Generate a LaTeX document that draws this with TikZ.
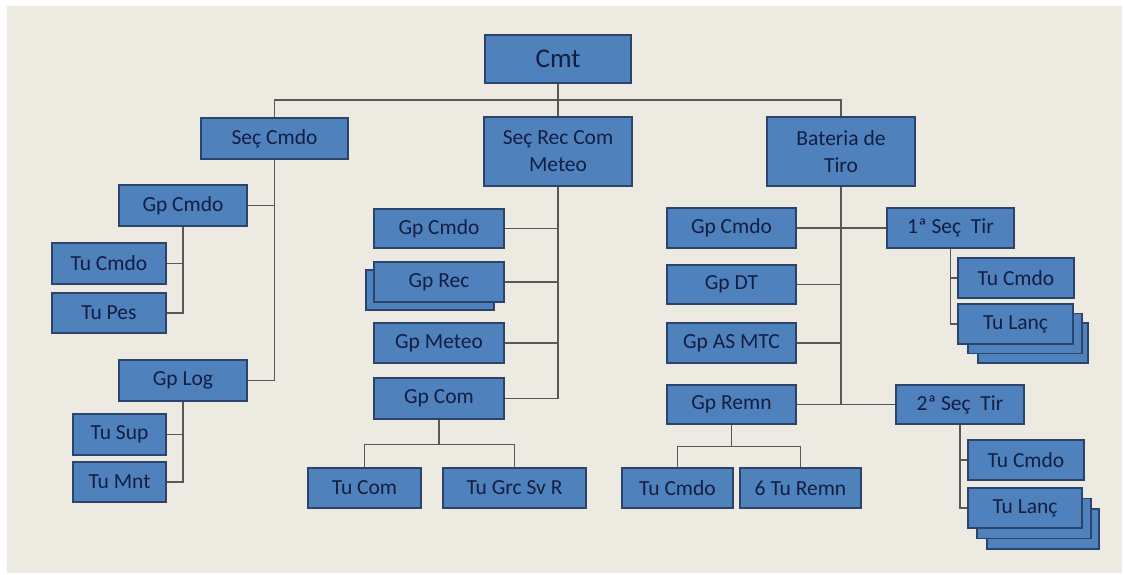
\documentclass[tikz,border=0pt]{standalone}
\usepackage{fontspec}
\setmainfont{Carlito}
\definecolor{bg}{RGB}{237,234,226}
\definecolor{boxfill}{RGB}{79,129,189}
\definecolor{boxline}{RGB}{44,68,108}
\definecolor{txt}{RGB}{18,30,66}
\definecolor{conn}{RGB}{88,88,88}
\begin{document}
\begin{tikzpicture}[x=1pt,y=-1pt,
  box/.style={draw=boxline,fill=boxfill,line width=1.6pt,inner sep=0pt,
    text=txt,font=\fontsize{21.5}{27}\selectfont,align=center},
  conn/.style={draw=conn,line width=1.5pt}]
\useasboundingbox (0,0) rectangle (1124,574);
\fill[white] (0,0) rectangle (1124,574);
\fill[bg] (7,6) rectangle (1122,573);
% top level
\node[box,minimum width=146pt,minimum height=48pt,font=\fontsize{27}{30}\selectfont] (cmt) at (558,59) {Cmt};
\node[box,minimum width=147pt,minimum height=41pt] (sec) at (274.5,138.5) {Seç Cmdo};
\node[box,minimum width=148pt,minimum height=69pt] (rec) at (558,151.5) {Seç Rec Com\\Meteo};
\node[box,minimum width=148pt,minimum height=69pt] (bat) at (841,151.5) {Bateria de\\Tiro};
% left branch
\node[box,minimum width=128pt,minimum height=41pt] (lgcmdo) at (183,205.5) {Gp Cmdo};
\node[box,minimum width=114pt,minimum height=41pt] (ltucmdo) at (109,263.5) {Tu Cmdo};
\node[box,minimum width=114pt,minimum height=40pt] (ltupes) at (109,313) {Tu Pes};
\node[box,minimum width=128pt,minimum height=41pt] (lgplog) at (183,380.5) {Gp Log};
\node[box,minimum width=93pt,minimum height=41pt] (ltusup) at (119.5,434.5) {Tu Sup};
\node[box,minimum width=93pt,minimum height=40pt] (ltumnt) at (119.5,482) {Tu Mnt};
% middle branch
\node[box,minimum width=130pt,minimum height=39pt] (mgcmdo) at (439,228.5) {Gp Cmdo};
\node[box,minimum width=128pt,minimum height=40pt] (mgrecb) at (430,290) {};
\node[box,minimum width=130pt,minimum height=40pt] (mgrec) at (439,282) {Gp Rec};
\node[box,minimum width=130pt,minimum height=40pt] (mgmeteo) at (439,343) {Gp Meteo};
\node[box,minimum width=130pt,minimum height=41pt] (mgcom) at (439,398.5) {Gp Com};
\node[box,minimum width=113pt,minimum height=40pt] (mtucom) at (364.5,488) {Tu Com};
\node[box,minimum width=143pt,minimum height=40pt] (mtugrc) at (514.5,488) {Tu Grc Sv R};
% right branch
\node[box,minimum width=129pt,minimum height=40pt] (rgcmdo) at (731.5,228) {Gp Cmdo};
\node[box,minimum width=129pt,minimum height=39pt] (rgdt) at (731.5,284.5) {Gp DT};
\node[box,minimum width=129pt,minimum height=40pt] (rgas) at (731.5,343) {Gp AS MTC};
\node[box,minimum width=129pt,minimum height=39pt] (rgremn) at (731.5,404.5) {Gp Remn};
\node[box,minimum width=111pt,minimum height=40pt] (rtucmdo) at (677.5,488) {Tu Cmdo};
\node[box,minimum width=121pt,minimum height=40pt] (rturemn) at (800.5,488) {6 Tu Remn};
\node[box,minimum width=127pt,minimum height=40pt] (s1) at (950.5,228) {1ª Seç\ \ Tir};
\node[box,minimum width=116pt,minimum height=40pt] (s1tucmdo) at (1016,278) {Tu Cmdo};
\node[box,minimum width=110pt,minimum height=40pt] (s1lancc) at (1033,343) {};
\node[box,minimum width=114pt,minimum height=40pt] (s1lancb) at (1025,333.5) {};
\node[box,minimum width=115pt,minimum height=40pt] (s1tulanc) at (1015.5,324) {Tu Lanç};
\node[box,minimum width=128pt,minimum height=39pt] (s2) at (960,404.5) {2ª Seç\ \ Tir};
\node[box,minimum width=116pt,minimum height=40pt] (s2tucmdo) at (1026,460) {Tu Cmdo};
\node[box,minimum width=112pt,minimum height=40pt] (s2lancc) at (1043,529) {};
\node[box,minimum width=114pt,minimum height=40pt] (s2lancb) at (1034,518.5) {};
\node[box,minimum width=114pt,minimum height=40pt] (s2tulanc) at (1025,508) {Tu Lanç};
% connectors
\coordinate (bar) at (558,100);
\draw[conn] (cmt.south) -- (rec.north);
\draw[conn] (sec.north) |- (bar) -| (bat.north);
% left
\draw[conn] (sec.south) |- (lgplog.east);
\draw[conn] (lgcmdo.east) -- (lgcmdo.east -| sec.south);
\draw[conn] (lgcmdo.south) |- (ltupes.east);
\draw[conn] (ltucmdo.east) -- (ltucmdo.east -| lgcmdo.south);
\draw[conn] (lgplog.south) |- (ltumnt.east);
\draw[conn] (ltusup.east) -- (ltusup.east -| lgplog.south);
% middle
\draw[conn] (rec.south) |- (mgcom.east);
\draw[conn] (mgcmdo.east) -- (mgcmdo.east -| rec.south);
\draw[conn] (mgrec.east) -- (mgrec.east -| rec.south);
\draw[conn] (mgmeteo.east) -- (mgmeteo.east -| rec.south);
\draw[conn] (mgcom.south) -- ++(0,24.5) coordinate (mc);
\draw[conn] (mtucom.north) |- (mc) -| (mtugrc.north);
% right
\draw[conn] (bat.south) -- (bat.south |- rgremn.east);
\draw[conn] (rgcmdo.east) -- (s1.west);
\draw[conn] (rgdt.east) -- (rgdt.east -| bat.south);
\draw[conn] (rgas.east) -- (rgas.east -| bat.south);
\draw[conn] (rgremn.east) -- (s2.west);
\draw[conn] (rgremn.south) -- ++(0,21.5) coordinate (rc);
\draw[conn] (rtucmdo.north) |- (rc) -| (rturemn.north);
\draw[conn] (s1.south) |- (s1tulanc.west);
\draw[conn] (s1tucmdo.west) -- (s1tucmdo.west -| s1.south);
\draw[conn] (s2.south) |- (s2tulanc.west);
\draw[conn] (s2tucmdo.west) -- (s2tucmdo.west -| s2.south);
\end{tikzpicture}
\end{document}
